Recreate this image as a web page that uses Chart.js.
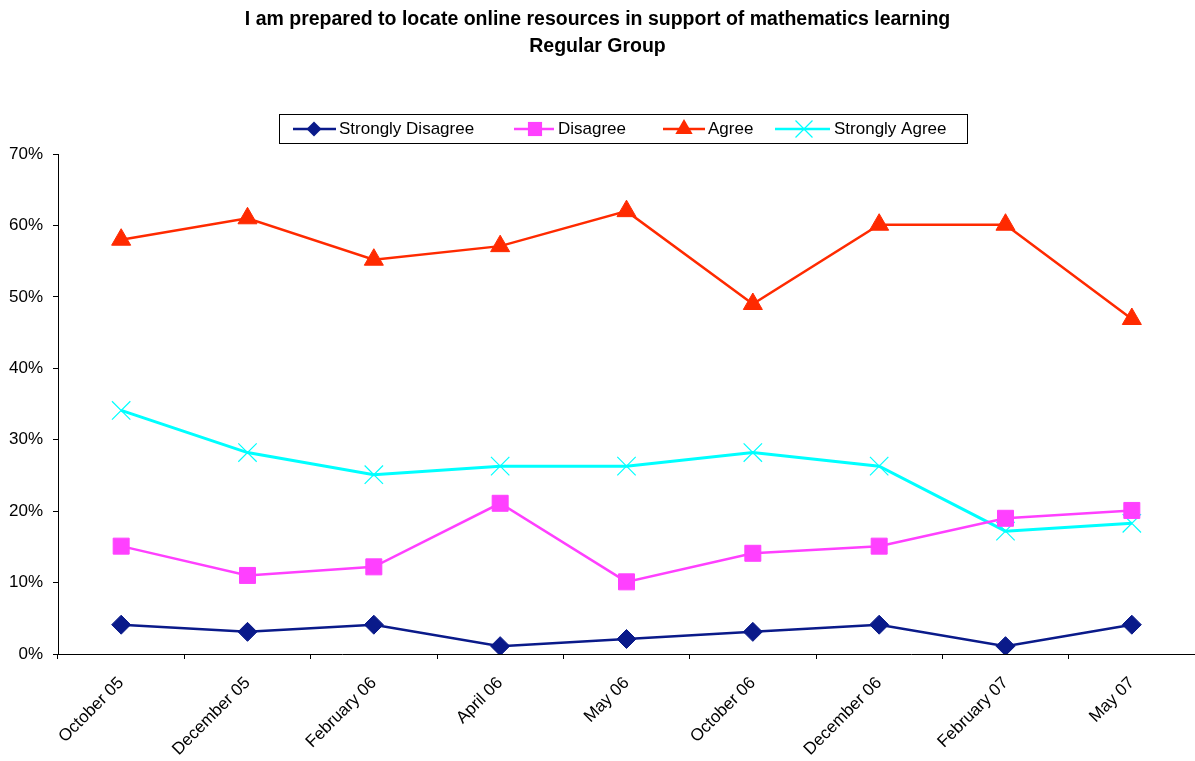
<!DOCTYPE html>
<html>
<head>
<meta charset="utf-8">
<script src="https://cdn.jsdelivr.net/npm/chart.js@4/dist/chart.umd.min.js"></script>
<style>
  html, body { margin: 0; padding: 0; background: #ffffff; }
  #wrap { width: 1195px; height: 761px; position: relative; }
</style>
</head>
<body>
<div id="wrap"><canvas id="c" width="1195" height="761"></canvas></div>
<script>
const categories = ["October 05", "December 05", "February 06", "April 06", "May 06", "October 06", "December 06", "February 07", "May 07"];
const stronglyDisagree = [4.1, 3.1, 4.1, 1.1, 2.1, 3.1, 4.1, 1.1, 4.1];
const disagree = [15.1, 11.0, 12.2, 21.1, 10.1, 14.1, 15.1, 19.0, 20.1];
const agree = [58.0, 61.0, 55.2, 57.1, 62.0, 49.0, 60.1, 60.1, 46.9];
const stronglyAgree = [34.1, 28.2, 25.1, 26.3, 26.3, 28.2, 26.3, 17.2, 18.3];
const yTicks = [0, 10, 20, 30, 40, 50, 60, 70];
const titleLines = ["I am prepared to locate online resources in support of mathematics learning", "Regular Group"];

const FONT = "'Liberation Sans', Arial, sans-serif";

function drawMarker(ctx, style, x, y, r, color) {
  ctx.save();
  ctx.fillStyle = color;
  ctx.strokeStyle = color;
  ctx.beginPath();
  if (style === 'rectRot') {
    ctx.moveTo(x - r, y); ctx.lineTo(x, y - r); ctx.lineTo(x + r, y); ctx.lineTo(x, y + r); ctx.closePath(); ctx.fill();
  } else if (style === 'rect') {
    const s = Math.SQRT1_2 * r;
    ctx.rect(x - s, y - s, 2 * s, 2 * s); ctx.fill();
  } else if (style === 'triangle') {
    const w = r * Math.sqrt(3) / 2;
    ctx.moveTo(x, y - r); ctx.lineTo(x + w, y + r / 2); ctx.lineTo(x - w, y + r / 2); ctx.closePath(); ctx.fill();
  } else if (style === 'crossRot') {
    const o = Math.SQRT1_2 * r;
    ctx.lineWidth = 1.2;
    ctx.moveTo(x - o, y - o); ctx.lineTo(x + o, y + o);
    ctx.moveTo(x + o, y - o); ctx.lineTo(x - o, y + o); ctx.stroke();
  }
  ctx.restore();
}

const legendLayout = [
  { x1: 293, x2: 336, mx: 314, tx: 339 },
  { x1: 514, x2: 554, mx: 535, tx: 558 },
  { x1: 663, x2: 705, mx: 684, tx: 708 },
  { x1: 775, x2: 830, mx: 804, tx: 834 }
];

const boxLegend = {
  id: 'boxLegend',
  afterDraw(chart) {
    const ctx = chart.ctx;
    ctx.save();
    ctx.strokeStyle = '#000000';
    ctx.lineWidth = 1;
    ctx.strokeRect(279.5, 114.5, 688, 29);
    const y = 129;
    chart.data.datasets.forEach((ds, i) => {
      const L = legendLayout[i];
      ctx.strokeStyle = ds.borderColor;
      ctx.lineWidth = 2.5;
      ctx.beginPath(); ctx.moveTo(L.x1, y); ctx.lineTo(L.x2, y); ctx.stroke();
      drawMarker(ctx, ds.pointStyle, L.mx, y, ds.legendRadius, ds.borderColor);
      ctx.fillStyle = '#000000';
      ctx.font = '17px ' + FONT;
      ctx.textBaseline = 'middle';
      ctx.textAlign = 'left';
      ctx.fillText(ds.label, L.tx, y);
    });
    ctx.restore();
  }
};

const ctx = document.getElementById('c').getContext('2d');
new Chart(ctx, {
  type: 'line',
  data: {
    labels: categories,
    datasets: [
      { label: 'Strongly Disagree', data: stronglyDisagree, borderColor: '#0a1a8a', backgroundColor: '#0a1a8a',
        borderWidth: 2.5, pointStyle: 'rectRot', pointRadius: 9.5, pointBorderWidth: 1, legendRadius: 7.5 },
      { label: 'Disagree', data: disagree, borderColor: '#ff40ff', backgroundColor: '#ff40ff',
        borderWidth: 2.5, pointStyle: 'rect', pointRadius: 11.3, pointBorderWidth: 1, legendRadius: 10 },
      { label: 'Agree', data: agree, borderColor: '#ff2a00', backgroundColor: '#ff2a00',
        borderWidth: 2.5, pointStyle: 'triangle', pointRadius: 11, pointBorderWidth: 1, legendRadius: 10 },
      { label: 'Strongly Agree', data: stronglyAgree, borderColor: '#00ffff', backgroundColor: '#00ffff',
        borderWidth: 3, pointStyle: 'crossRot', pointRadius: 13, pointBorderWidth: 1.2, legendRadius: 12 }
    ]
  },
  options: {
    responsive: false,
    animation: false,
    layout: { autoPadding: false, padding: { left: 0, right: 0, top: 0, bottom: 0 } },
    elements: { line: { tension: 0 } },
    plugins: {
      legend: { display: false },
      tooltip: { enabled: false },
      title: {
        display: true,
        text: titleLines,
        color: '#000000',
        font: { family: FONT, size: 19.5, weight: 'bold', lineHeight: 27 / 19.5 },
        padding: { top: 6.5, bottom: 93.5 }
      }
    },
    scales: {
      x: {
        type: 'category',
        offset: true,
        grid: { offset: true, drawOnChartArea: false, drawTicks: true, tickLength: 5, color: '#000000' },
        border: { display: true, color: '#000000', width: 1 },
        ticks: { minRotation: 45, maxRotation: 45, autoSkip: false, color: '#000000', padding: 14,
                 font: { family: FONT, size: 17 } },
        afterFit(scale) { scale.height = 107; scale.paddingLeft = 0; scale.paddingRight = 0; }
      },
      y: {
        min: 0, max: 70,
        afterBuildTicks(scale) { scale.ticks = yTicks.map(v => ({ value: v })); },
        grid: { drawOnChartArea: false, drawTicks: true, tickLength: 5, color: '#000000' },
        border: { display: true, color: '#000000', width: 1 },
        ticks: { color: '#000000', padding: 10, font: { family: FONT, size: 17 },
                 callback: v => v + '%' },
        afterFit(scale) { scale.width = 58; scale.paddingTop = 0; scale.paddingBottom = 0; }
      }
    }
  },
  plugins: [boxLegend]
});
</script>
</body>
</html>
